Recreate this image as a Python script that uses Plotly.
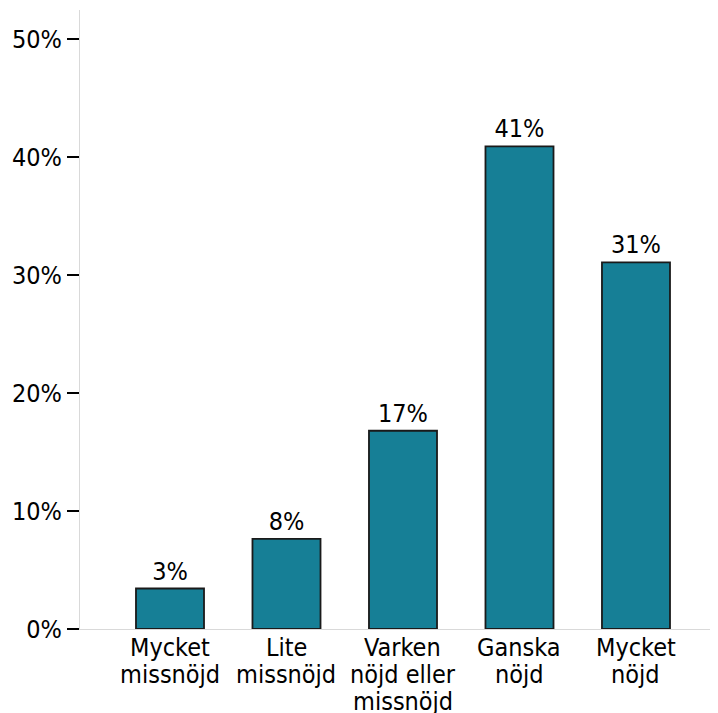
import plotly.graph_objects as go

category_lines = [["Mycket", "missnöjd"], ["Lite", "missnöjd"], ["Varken", "nöjd eller", "missnöjd"], ["Ganska", "nöjd"], ["Mycket", "nöjd"]]
categories = [" ".join(c) for c in category_lines]
values = [3.43, 7.64, 16.8, 40.9, 31.06]
y_ticks = [0, 10, 20, 30, 40, 50]

FONT = "DejaVu Sans Condensed, DejaVu Sans, sans-serif"
FS = 25

fig = go.Figure(go.Bar(
    x=categories,
    y=values,
    width=0.584,
    marker=dict(color="#167f96", line=dict(color="#1a1a1a", width=1.8)),
    texttemplate="%{y:.0f}%",
    textposition="outside",
    textfont=dict(family=FONT, size=FS, color="black"),
    cliponaxis=False,
))

annotations = []
for cat, lines in zip(categories, category_lines):
    for i, line in enumerate(lines):
        annotations.append(dict(
            x=cat, y=0, xref="x", yref="y",
            text=line, showarrow=False,
            xanchor="center", yanchor="top",
            yshift=-(2 + i * 27),
            font=dict(family=FONT, size=FS, color="black"),
        ))

fig.update_layout(
    width=710, height=705,
    margin=dict(l=72, r=0, t=2, b=83.5),
    plot_bgcolor="white", paper_bgcolor="white",
    font=dict(family=FONT, size=FS, color="black"),
    showlegend=False,
    annotations=annotations,
)
fig.update_xaxes(
    type="category",
    range=[-0.7725, 4.704],
    showline=True, linecolor="#d9d9d9", linewidth=1,
    ticks="", showgrid=False, zeroline=False,
    showticklabels=False, automargin=False,
)
fig.update_yaxes(
    range=[0, 52.45],
    tickvals=y_ticks, ticktext=[f"{v}%" for v in y_ticks],
    showline=True, linecolor="#d9d9d9", linewidth=1,
    ticks="outside", ticklen=12, tickwidth=1.5, tickcolor="black",
    showgrid=False, zeroline=False, automargin=False,
    ticklabelstandoff=0,
    tickfont=dict(family=FONT, size=FS, color="black"),
)

fig.write_html("out.html")
